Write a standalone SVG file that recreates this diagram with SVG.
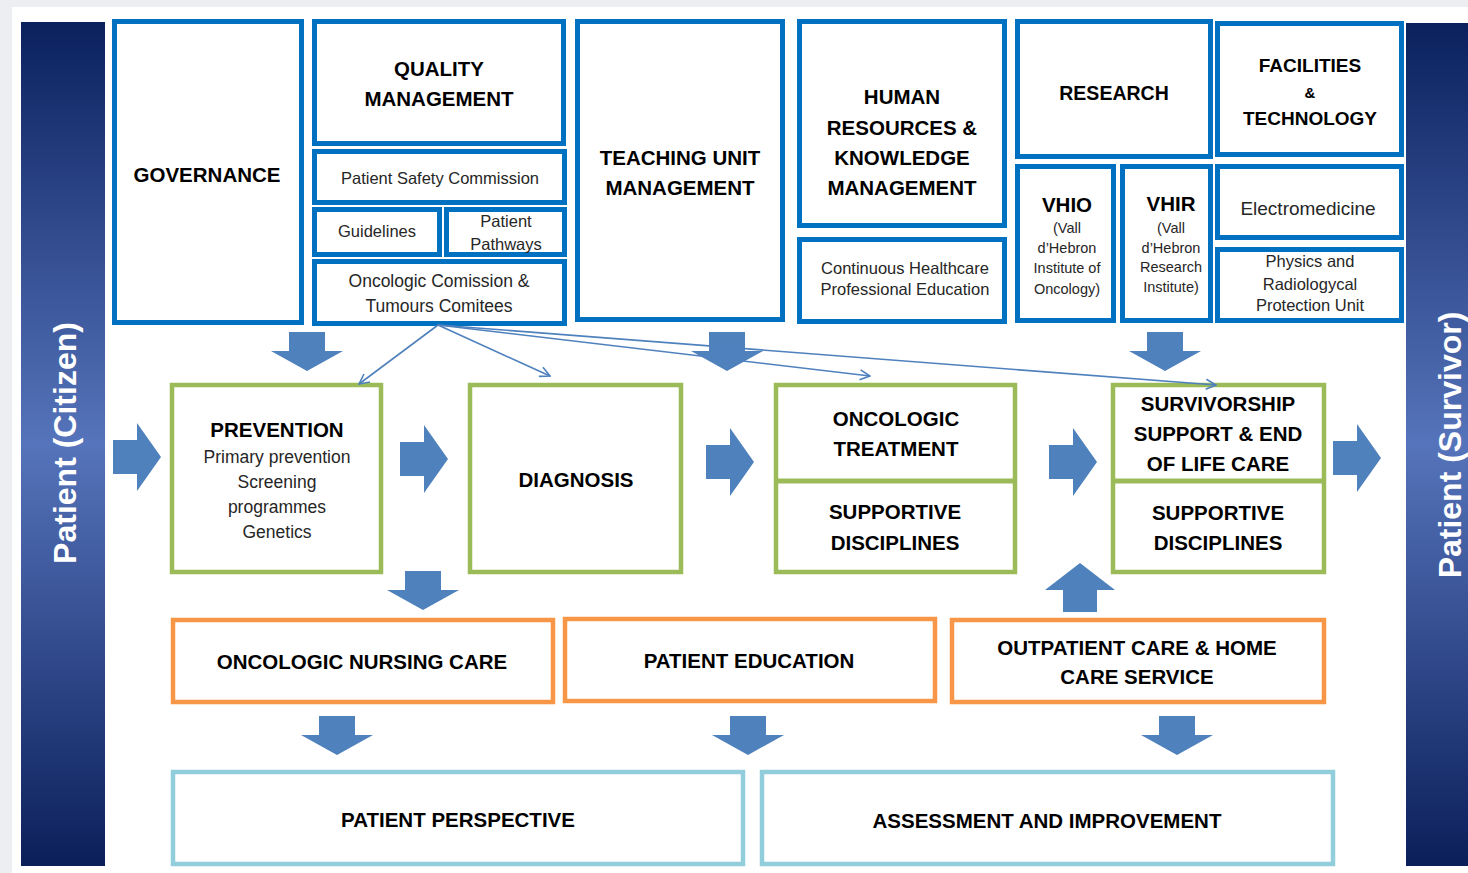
<svg xmlns="http://www.w3.org/2000/svg" width="1468" height="873" viewBox="0 0 1468 873">
<style>
.bg{fill:#ffffff}
.blue{fill:#fff;stroke:#0070c0;stroke-width:5}
.green{fill:#fff;stroke:#9bbb59;stroke-width:4.5}
.orange{fill:#fff;stroke:#f79646;stroke-width:4.5}
.lblue{fill:#fff;stroke:#92cddc;stroke-width:4.5}
.t{font-family:"Liberation Sans",Arial,sans-serif;font-weight:bold;font-size:20.5px;fill:#000;text-anchor:middle}
.s{font-family:"Liberation Sans",Arial,sans-serif;font-size:16.5px;fill:#262626;text-anchor:middle}
.side{font-family:"Liberation Sans",Arial,sans-serif;font-weight:bold;font-size:32px;fill:#fff;text-anchor:middle}
.ba{fill:#4f81bd}
.conn{fill:none;stroke:#4f81bd;stroke-width:1.6}
</style>
<defs>
<linearGradient id="barg" x1="0" y1="0" x2="0" y2="1">
<stop offset="0" stop-color="#0b215e"/>
<stop offset="0.5" stop-color="#5674bb"/>
<stop offset="1" stop-color="#0b1f5a"/>
</linearGradient>
<path id="down" d="M-18,0 H18 V19 H36 L0,39 L-36,19 H-18 Z"/>
<path id="right" d="M0,-17 H24 V-34 L48,0 L24,34 V17 H0 Z"/>
<marker id="chev" viewBox="0 0 12 12" refX="11" refY="6" markerWidth="12" markerHeight="12" markerUnits="userSpaceOnUse" orient="auto">
<path d="M1,1 L11,6 L1,11" fill="none" stroke="#4f81bd" stroke-width="1.6"/>
</marker>
</defs>
<rect x="0" y="0" width="1468" height="873" fill="#eceef1"/>
<rect x="12" y="7" width="1456" height="866" class="bg"/>

<g id="bar-left">
<rect x="21" y="22" width="84" height="844" fill="url(#barg)"/>
<text class="side" transform="translate(76,443) rotate(-90)">Patient (Citizen)</text>
</g>
<g id="bar-right">
<rect x="1406" y="23" width="62" height="843" fill="url(#barg)"/>
<text class="side" transform="translate(1461,445) rotate(-90)">Patient (Survivor)</text>
</g>

<g id="governance"><rect class="blue" x="114.5" y="21.5" width="187" height="301"/>
<text class="t" x="207" y="182">GOVERNANCE</text></g>
<g id="quality"><rect class="blue" x="314.5" y="21.5" width="249" height="122"/>
<text class="t" x="439" y="76">QUALITY</text><text class="t" x="439" y="106">MANAGEMENT</text></g>
<g id="safety"><rect class="blue" x="314.5" y="151.5" width="250" height="51"/>
<text class="s" x="440" y="184">Patient Safety  Commission</text></g>
<g id="guidelines"><rect class="blue" x="314.5" y="209.5" width="125" height="45"/>
<text class="s" x="377" y="237">Guidelines</text></g>
<g id="pathways"><rect class="blue" x="446.5" y="209.5" width="118" height="45"/>
<text class="s" x="506" y="227">Patient</text><text class="s" x="506" y="250">Pathways</text></g>
<g id="oncologic-comission"><rect class="blue" x="314.5" y="261.5" width="250" height="62"/>
<text class="s" x="439" y="287" style="font-size:17.5px">Oncologic Comission &amp;</text>
<text class="s" x="439" y="312" style="font-size:17.5px">Tumours Comitees</text></g>
<g id="teaching"><rect class="blue" x="577.5" y="21.5" width="205" height="298"/>
<text class="t" x="680" y="165">TEACHING UNIT</text><text class="t" x="680" y="195">MANAGEMENT</text></g>
<g id="hr"><rect class="blue" x="799.5" y="21.5" width="205" height="204"/>
<text class="t" x="902" y="104">HUMAN</text><text class="t" x="902" y="135">RESOURCES &amp;</text>
<text class="t" x="902" y="165">KNOWLEDGE</text><text class="t" x="902" y="195">MANAGEMENT</text></g>
<g id="continuous"><rect class="blue" x="799.5" y="239.5" width="205" height="82"/>
<text class="s" x="905" y="274">Continuous  Healthcare</text><text class="s" x="905" y="295">Professional Education</text></g>
<g id="research"><rect class="blue" x="1017.5" y="21.5" width="193" height="135"/>
<text class="t" x="1114" y="100" style="font-size:19.5px">RESEARCH</text></g>
<g id="vhio"><rect class="blue" x="1017.5" y="166.5" width="96" height="154"/>
<text class="t" x="1067" y="212">VHIO</text>
<text class="s" x="1067" y="233" style="font-size:14.5px">(Vall</text>
<text class="s" x="1067" y="253" style="font-size:14.5px">d’Hebron</text>
<text class="s" x="1067" y="273" style="font-size:14.5px">Institute of</text>
<text class="s" x="1067" y="294" style="font-size:14.5px">Oncology)</text></g>
<g id="vhir"><rect class="blue" x="1122.5" y="166.5" width="88" height="154"/>
<text class="t" x="1171" y="211">VHIR</text>
<text class="s" x="1171" y="233" style="font-size:14.5px">(Vall</text>
<text class="s" x="1171" y="253" style="font-size:14.5px">d’Hebron</text>
<text class="s" x="1171" y="272" style="font-size:14.5px">Research</text>
<text class="s" x="1171" y="292" style="font-size:14.5px">Institute)</text></g>
<g id="facilities"><rect class="blue" x="1217.5" y="23.5" width="184" height="131"/>
<text class="t" x="1310" y="72" style="font-size:19px">FACILITIES</text>
<text class="t" x="1310" y="98" style="font-size:15px">&amp;</text>
<text class="t" x="1310" y="125" style="font-size:19px">TECHNOLOGY</text></g>
<g id="electromedicine"><rect class="blue" x="1217.5" y="166.5" width="184" height="71"/>
<text class="s" x="1308" y="215" style="font-size:19px">Electromedicine</text></g>
<g id="physics"><rect class="blue" x="1217.5" y="249.5" width="184" height="71"/>
<text class="s" x="1310" y="267">Physics and</text>
<text class="s" x="1310" y="290">Radiologycal</text>
<text class="s" x="1310" y="311">Protection Unit</text></g>

<g id="prevention"><rect class="green" x="172" y="385" width="209" height="187"/>
<text class="t" x="277" y="437">PREVENTION</text>
<text class="s" x="277" y="463" style="font-size:17.5px">Primary prevention</text>
<text class="s" x="277" y="488" style="font-size:17.5px">Screening</text>
<text class="s" x="277" y="513" style="font-size:17.5px">programmes</text>
<text class="s" x="277" y="538" style="font-size:17.5px">Genetics</text></g>
<g id="diagnosis"><rect class="green" x="470" y="385" width="211" height="187"/>
<text class="t" x="576" y="487">DIAGNOSIS</text></g>
<g id="treatment"><rect class="green" x="776" y="385" width="239" height="187"/>
<line x1="776" y1="481" x2="1015" y2="481" stroke="#9bbb59" stroke-width="5"/>
<text class="t" x="896" y="426">ONCOLOGIC</text><text class="t" x="896" y="456">TREATMENT</text>
<text class="t" x="895" y="519">SUPPORTIVE</text><text class="t" x="895" y="550">DISCIPLINES</text></g>
<g id="survivorship"><rect class="green" x="1113" y="385" width="211" height="187"/>
<line x1="1113" y1="481" x2="1324" y2="481" stroke="#9bbb59" stroke-width="5"/>
<text class="t" x="1218" y="411">SURVIVORSHIP</text><text class="t" x="1218" y="441">SUPPORT &amp; END</text>
<text class="t" x="1218" y="471">OF LIFE CARE</text>
<text class="t" x="1218" y="520">SUPPORTIVE</text><text class="t" x="1218" y="550">DISCIPLINES</text></g>

<g id="nursing"><rect class="orange" x="173" y="620" width="380" height="82"/>
<text class="t" x="362" y="669">ONCOLOGIC NURSING CARE</text></g>
<g id="education"><rect class="orange" x="565" y="619" width="370" height="82"/>
<text class="t" x="749" y="668">PATIENT EDUCATION</text></g>
<g id="outpatient"><rect class="orange" x="952" y="620" width="372" height="82"/>
<text class="t" x="1137" y="655">OUTPATIENT CARE &amp; HOME</text>
<text class="t" x="1137" y="684">CARE SERVICE</text></g>
<g id="perspective"><rect class="lblue" x="173" y="772" width="570" height="92"/>
<text class="t" x="458" y="827">PATIENT PERSPECTIVE</text></g>
<g id="assessment"><rect class="lblue" x="762" y="772" width="571" height="92"/>
<text class="t" x="1047" y="828">ASSESSMENT AND IMPROVEMENT</text></g>

<g id="connectors">
<use href="#down" class="ba" x="307" y="332"/>
<use href="#down" class="ba" x="727" y="332"/>
<use href="#down" class="ba" x="1165" y="332"/>
<use href="#down" class="ba" x="423" y="571"/>
<use href="#down" class="ba" x="337" y="716"/>
<use href="#down" class="ba" x="748" y="716"/>
<use href="#down" class="ba" x="1177" y="716"/>
<path class="ba" d="M1063,612 V590 H1045 L1080,563 L1115,590 H1097 V612 Z"/>
<use href="#right" class="ba" x="113" y="457"/>
<use href="#right" class="ba" x="400" y="459"/>
<use href="#right" class="ba" x="706" y="462"/>
<use href="#right" class="ba" x="1049" y="462"/>
<use href="#right" class="ba" x="1333" y="458"/>
<line class="conn" x1="438" y1="325" x2="359" y2="384" marker-end="url(#chev)"/>
<line class="conn" x1="438" y1="325" x2="550" y2="376" marker-end="url(#chev)"/>
<line class="conn" x1="438" y1="325" x2="870" y2="376" marker-end="url(#chev)"/>
<line class="conn" x1="438" y1="325" x2="1216" y2="385" marker-end="url(#chev)"/>
</g>
</svg>
